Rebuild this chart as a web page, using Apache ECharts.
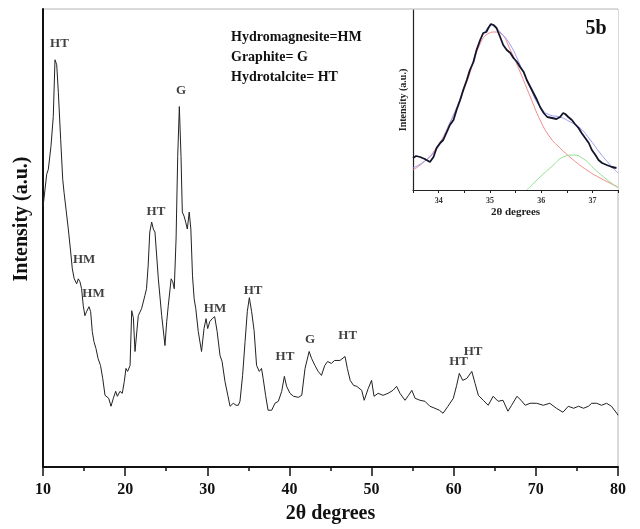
<!DOCTYPE html>
<html>
<head>
<meta charset="utf-8">
<script src="https://cdn.jsdelivr.net/npm/echarts@6/dist/echarts.min.js"></script>
<style>
  html, body { margin: 0; padding: 0; background: #fff; }
  #chart { width: 640px; height: 529px; }
</style>
</head>
<body>
<div id="chart"></div>
<script>
// XRD pattern of the sample, 2θ (degrees) vs intensity (a.u.)
var mainPattern = [
  [10.0, 261], [10.45, 294], [10.65, 299], [10.97, 322], [11.25, 352], [11.46, 409],
  [11.67, 404], [11.87, 376], [12.15, 329], [12.4, 289], [12.56, 276], [12.8, 259],
  [13.08, 239], [13.37, 216], [13.57, 199], [13.8, 189], [14.1, 184], [14.3, 189],
  [14.5, 186], [14.7, 179], [14.9, 162], [15.1, 152], [15.3, 156], [15.6, 161],
  [15.8, 156], [16.0, 136], [16.2, 126], [16.45, 119], [16.7, 109], [17.0, 102],
  [17.27, 89], [17.55, 72], [17.75, 74], [18.0, 69], [18.28, 61], [18.56, 69],
  [18.85, 76], [19.05, 71], [19.37, 76], [19.65, 74], [19.9, 86], [20.1, 99],
  [20.3, 96], [20.6, 102], [20.8, 157], [21.0, 150], [21.2, 116], [21.6, 152],
  [22.0, 159], [22.4, 172], [22.6, 179], [22.8, 202], [23.0, 236], [23.23, 246],
  [23.43, 239], [23.53, 241], [23.63, 236], [24.04, 189], [24.45, 152], [24.85, 122],
  [25.06, 146], [25.25, 162], [25.6, 189], [25.8, 186], [25.98, 179], [26.2, 229],
  [26.4, 312], [26.6, 362], [26.8, 312], [26.96, 256], [27.17, 252], [27.37, 246],
  [27.57, 239], [27.8, 256], [28.0, 239], [28.2, 192], [28.4, 169], [28.6, 159],
  [28.9, 136], [29.3, 116], [29.6, 139], [29.85, 149], [30.05, 139], [30.3, 146],
  [30.6, 149], [30.9, 151], [31.2, 136], [31.55, 112], [31.8, 106], [32.15, 86],
  [32.5, 72], [32.77, 61], [33.17, 64], [33.5, 62], [33.78, 62], [33.98, 66],
  [34.3, 92], [34.6, 126], [34.87, 156], [35.12, 170], [35.4, 156], [35.7, 137],
  [36.0, 102], [36.33, 96], [36.6, 99], [36.8, 89], [37.1, 72], [37.4, 57],
  [37.84, 57], [38.24, 64], [38.65, 66], [39.06, 76], [39.38, 91], [39.66, 81],
  [40.07, 74], [40.5, 71], [41.1, 70], [41.5, 72], [41.9, 99], [42.4, 116],
  [42.7, 109], [43.1, 102], [43.5, 96], [43.9, 92], [44.3, 102], [44.65, 106],
  [45.1, 104], [45.5, 107], [46.15, 107], [46.77, 111], [47.05, 99], [47.4, 87],
  [47.8, 82], [48.2, 81], [48.8, 77], [49.1, 67], [49.6, 79], [50.0, 87],
  [50.3, 71], [50.8, 74], [51.4, 72], [52.0, 74], [52.6, 77], [53.05, 81],
  [53.46, 74], [54.07, 67], [54.5, 72], [54.9, 77], [55.3, 69], [55.9, 67],
  [56.5, 66], [57.1, 61], [57.7, 59], [58.25, 57], [58.7, 54], [59.3, 61],
  [59.95, 69], [60.36, 82], [60.68, 94], [61.1, 87], [61.6, 89], [62.2, 96],
  [62.6, 84], [63.0, 72], [63.6, 67], [64.2, 62], [64.8, 71], [65.4, 66],
  [66.0, 67], [66.6, 56], [67.05, 62], [67.7, 71], [68.2, 67], [68.7, 62],
  [69.3, 64], [70.1, 64], [70.9, 62], [71.7, 64], [72.5, 59], [73.3, 55],
  [73.95, 61], [74.6, 59], [75.2, 61], [75.8, 59], [76.4, 61], [76.8, 64],
  [77.4, 64], [78.0, 62], [78.6, 64], [79.2, 61], [79.85, 54], [80.0, 52]
];

// Phase assignments written above the peaks: [2θ, height, tag]
var peakTags = [
  [12.0, 425, 'HT'], [15.0, 208, 'HM'], [16.15, 174, 'HM'], [23.75, 256, 'HT'],
  [26.8, 378, 'G'], [30.94, 159, 'HM'], [35.57, 177, 'HT'], [39.46, 111, 'HT'],
  [42.5, 128, 'G'], [47.1, 132, 'HT'], [60.6, 106, 'HT'], [62.35, 116, 'HT']
];

var phaseKey = ['Hydromagnesite=HM', 'Graphite= G', 'Hydrotalcite= HT'];

// Inset: deconvolution of the 35° reflection
var insetObserved = [
  [33.5, 32], [33.56, 34], [33.64, 33], [33.73, 31], [33.83, 28], [33.9, 33],
  [33.96, 42], [34.03, 47], [34.09, 50], [34.16, 58], [34.22, 65], [34.29, 70],
  [34.35, 80], [34.42, 90], [34.48, 100], [34.55, 110], [34.61, 120], [34.68, 128],
  [34.74, 140], [34.81, 150], [34.87, 157], [34.93, 158], [34.97, 162], [35.02, 166],
  [35.07, 165], [35.13, 162], [35.2, 153], [35.26, 145], [35.33, 140], [35.4, 137],
  [35.46, 132], [35.53, 128], [35.59, 123], [35.66, 118], [35.72, 110], [35.79, 103],
  [35.85, 97], [35.92, 90], [35.98, 83], [36.05, 77], [36.12, 73], [36.21, 72],
  [36.3, 71], [36.37, 73], [36.43, 77], [36.47, 76], [36.53, 73], [36.6, 70],
  [36.66, 66], [36.73, 62], [36.79, 57], [36.86, 52], [36.93, 47], [36.99, 40],
  [37.06, 35], [37.12, 30], [37.19, 27], [37.28, 25], [37.38, 23], [37.47, 22]
];
var insetFitTotal = [
  [33.5, 22], [33.9, 37], [34.22, 67], [34.55, 110], [34.8, 148], [34.93, 160],
  [35.04, 165], [35.2, 158], [35.4, 145], [35.59, 125], [35.79, 102], [35.98, 83],
  [36.17, 75], [36.37, 73], [36.57, 68], [36.76, 62], [36.96, 50], [37.15, 37],
  [37.35, 25], [37.5, 17]
];
var insetPeak1 = [
  [33.5, 20], [33.64, 25], [33.9, 38], [34.22, 67], [34.55, 108], [34.8, 145],
  [34.99, 157], [35.1, 158], [35.2, 157], [35.4, 140], [35.59, 118], [35.79, 93],
  [35.98, 70], [36.17, 53], [36.37, 42], [36.63, 30], [36.89, 20], [37.15, 12],
  [37.5, 3]
];
var insetPeak2 = [
  [35.72, 0], [35.98, 13], [36.24, 25], [36.43, 33], [36.63, 35], [36.83, 31],
  [37.02, 22], [37.22, 13], [37.5, 2]
];

var serif = 'Liberation Serif';
var chart = echarts.init(document.getElementById('chart'), null, { renderer: 'canvas' });

chart.setOption({
  animation: false,
  backgroundColor: '#ffffff',
  grid: [
    { left: 43, top: 9, width: 575, height: 460, show: true,
      borderColor: '#b4b4b4', borderWidth: 1, backgroundColor: 'transparent' },
    { left: 413, top: 10, width: 205, height: 180, show: true,
      borderWidth: 0, backgroundColor: '#ffffff' }
  ],
  xAxis: [
    {
      gridIndex: 0, type: 'value', min: 10, max: 80, interval: 10,
      name: '2θ degrees', nameLocation: 'middle', nameGap: 37,
      nameTextStyle: { fontFamily: serif, fontWeight: 'bold', fontSize: 20, color: '#111' },
      axisLine: { lineStyle: { color: '#111', width: 2 } },
      axisTick: { length: 9, lineStyle: { color: '#111', width: 1.5 } },
      minorTick: { show: true, splitNumber: 2, length: 4, lineStyle: { color: '#111', width: 1.5 } },
      axisLabel: { margin: 15, fontFamily: serif, fontWeight: 'bold', fontSize: 16, color: '#111' },
      splitLine: { show: false }
    },
    {
      gridIndex: 1, type: 'value', min: 33.5, max: 37.5, interval: 0.5,
      name: '2θ degrees', nameLocation: 'middle', nameGap: 17,
      nameTextStyle: { fontFamily: serif, fontWeight: 'bold', fontSize: 11, color: '#222' },
      axisLine: { lineStyle: { color: '#222', width: 1.2 } },
      axisTick: { length: 3, lineStyle: { color: '#222', width: 1 } },
      axisLabel: {
        margin: 7, fontFamily: serif, fontWeight: 'bold', fontSize: 8, color: '#333',
        formatter: function (v) { return Math.abs(v - Math.round(v)) < 1e-6 ? String(Math.round(v)) : ''; }
      },
      splitLine: { show: false }
    }
  ],
  yAxis: [
    {
      gridIndex: 0, type: 'value', min: 0, max: 460,
      axisLine: { show: true, lineStyle: { color: '#111', width: 2 } },
      axisTick: { show: false }, axisLabel: { show: false }, splitLine: { show: false }
    },
    {
      gridIndex: 1, type: 'value', min: 0, max: 180,
      name: 'Intensity (a.u.)', nameLocation: 'middle', nameGap: 5,
      nameTextStyle: { fontFamily: serif, fontWeight: 'bold', fontSize: 10, color: '#222' },
      axisLine: { show: true, lineStyle: { color: '#222', width: 1.2 } },
      axisTick: { show: false }, axisLabel: { show: false }, splitLine: { show: false }
    }
  ],
  series: [
    {
      name: 'pattern', type: 'line', xAxisIndex: 0, yAxisIndex: 0,
      data: mainPattern, showSymbol: false, symbol: 'none',
      lineStyle: { color: '#222', width: 1 }
    },
    {
      name: 'tags', type: 'scatter', xAxisIndex: 0, yAxisIndex: 0,
      data: peakTags, symbolSize: 0, silent: true,
      label: {
        show: true, position: 'inside',
        formatter: function (p) { return p.data[2]; },
        fontFamily: serif, fontWeight: 'bold', fontSize: 13, color: '#111'
      }
    },
    {
      name: 'peak 1', type: 'line', xAxisIndex: 1, yAxisIndex: 1,
      data: insetPeak1, showSymbol: false, smooth: true,
      lineStyle: { color: '#f28a8a', width: 1 }
    },
    {
      name: 'peak 2', type: 'line', xAxisIndex: 1, yAxisIndex: 1,
      data: insetPeak2, showSymbol: false, smooth: true,
      lineStyle: { color: '#8fe08f', width: 1 }
    },
    {
      name: 'fit', type: 'line', xAxisIndex: 1, yAxisIndex: 1,
      data: insetFitTotal, showSymbol: false, smooth: true,
      lineStyle: { color: '#9a9af5', width: 1 }
    },
    {
      name: 'observed', type: 'line', xAxisIndex: 1, yAxisIndex: 1,
      data: insetObserved, showSymbol: false,
      lineStyle: { color: '#14142a', width: 1.8 }
    }
  ],
  graphic: [
    { type: 'text', left: 231, top: 30,
      style: { text: phaseKey[0], font: 'bold 14px "Liberation Serif"', fill: '#111' } },
    { type: 'text', left: 231, top: 50,
      style: { text: phaseKey[1], font: 'bold 14px "Liberation Serif"', fill: '#111' } },
    { type: 'text', left: 231, top: 70,
      style: { text: phaseKey[2], font: 'bold 14px "Liberation Serif"', fill: '#111' } },
    { type: 'text', x: 596, y: 29,
      style: { text: '5b', font: 'bold 20px "Liberation Serif"', fill: '#111',
               textAlign: 'center', textVerticalAlign: 'middle' } },
    { type: 'text', x: 22, y: 219, rotation: Math.PI / 2,
      style: { text: 'Intensity (a.u.)', font: 'bold 20px "Liberation Serif"', fill: '#111',
               textAlign: 'center', textVerticalAlign: 'middle' } }
  ]
});
</script>
</body>
</html>
